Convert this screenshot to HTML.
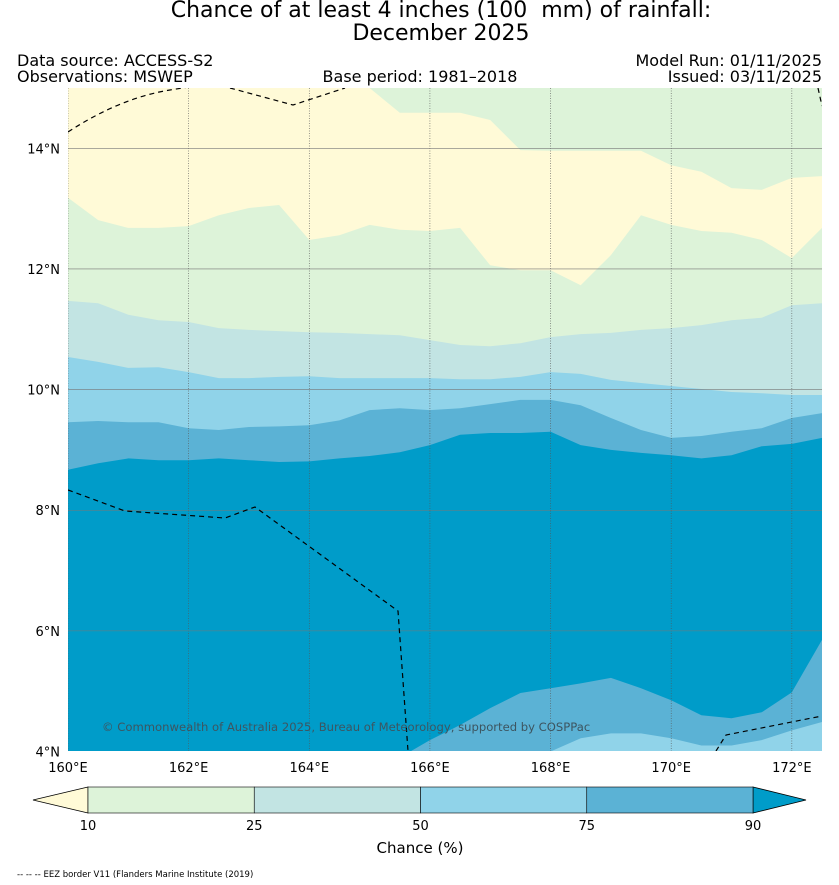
<!DOCTYPE html>
<html><head><meta charset="utf-8">
<style>
body{margin:0;background:#fff;font-family:"DejaVu Sans","Liberation Sans",sans-serif;}
svg{display:block}
</style></head><body>
<svg id="chart" width="839" height="885" viewBox="0 0 839 885" xmlns="http://www.w3.org/2000/svg">
<text x="441" y="17" font-size="22" text-anchor="middle">Chance of at least 4 inches (100&#160; mm) of rainfall:</text>
<text x="441" y="40" font-size="22" text-anchor="middle">December 2025</text>
<text x="17" y="66" font-size="16">Data source: ACCESS-S2</text>
<text x="17" y="82" font-size="16">Observations: MSWEP</text>
<text x="420" y="82" font-size="16" text-anchor="middle">Base period: 1981–2018</text>
<text x="822" y="66" font-size="16" text-anchor="end">Model Run: 01/11/2025</text>
<text x="822" y="82" font-size="16" text-anchor="end">Issued: 03/11/2025</text>
<defs><clipPath id="mapclip"><rect x="68" y="88" width="754" height="663"/></clipPath></defs>
<g id="map" clip-path="url(#mapclip)"></g>
<g id="axes"></g>
<g id="cbar"></g>
<text x="420" y="853" font-size="15" text-anchor="middle">Chance (%)</text>
<text x="17" y="877" font-size="8.5">-- -- -- EEZ border V11 (Flanders Marine Institute (2019)</text>
</svg>
<script>
const lons=[160,160.5,161,161.5,162,162.5,163,163.5,164,164.5,165,165.5,166,166.5,167,167.5,168,168.5,169,169.5,170,170.5,171,171.5,172,172.5];
const creamTop=[15,15,15,15,15,15,15,15,15,15,15,14.59,14.59,14.59,14.47,13.97,13.96,13.96,13.96,13.96,13.72,13.61,13.34,13.31,13.51,13.54];
const creamBottom=[13.18,12.81,12.68,12.68,12.71,12.89,13.01,13.06,12.48,12.56,12.73,12.65,12.63,12.68,12.06,11.98,11.98,11.73,12.23,12.89,12.73,12.63,12.60,12.48,12.18,12.68];
const edge25=[11.47,11.43,11.24,11.15,11.12,11.02,10.99,10.97,10.95,10.94,10.92,10.90,10.82,10.74,10.72,10.77,10.87,10.92,10.94,10.99,11.02,11.07,11.15,11.19,11.40,11.43];
const edge50=[10.54,10.46,10.36,10.37,10.29,10.19,10.19,10.21,10.22,10.19,10.19,10.19,10.19,10.17,10.17,10.21,10.29,10.26,10.16,10.11,10.06,10.01,9.96,9.94,9.91,9.91];
const edge75=[9.46,9.48,9.46,9.46,9.36,9.33,9.38,9.39,9.41,9.49,9.66,9.69,9.66,9.69,9.76,9.83,9.83,9.74,9.53,9.33,9.20,9.23,9.30,9.36,9.53,9.61];
const edge90=[8.67,8.78,8.86,8.83,8.83,8.86,8.83,8.80,8.81,8.86,8.90,8.96,9.08,9.25,9.28,9.28,9.30,9.08,9.00,8.95,8.91,8.86,8.91,9.06,9.10,9.20];
const bottom90=[3.9,3.9,3.9,3.9,3.9,3.9,3.9,3.9,3.9,3.9,3.9,3.9,4.19,4.44,4.72,4.97,5.05,5.13,5.22,5.05,4.85,4.60,4.55,4.65,4.98,5.85];
const bottom75=[3.9,3.9,3.9,3.9,3.9,3.9,3.9,3.9,3.9,3.9,3.9,3.9,3.9,3.9,3.9,3.9,4.0,4.22,4.30,4.30,4.22,4.10,4.10,4.19,4.35,4.49];
const latTicks=[14,12,10,8,6,4];
const lonTicks=[160,162,164,166,168,170,172];
const cbarLevels=[10,25,50,75,90];
const cbarColors=["#ddf3d9","#c2e4e3","#90d3e9","#5bb2d5"];
const C={cream:"#fffad7",g:"#ddf3d9",t:"#c2e4e3",lb:"#90d3e9",mb:"#5bb2d5",d:"#009cc9"};
const NS="http://www.w3.org/2000/svg";
const X=lon=>68+(lon-160)*60.32;
const Y=lat=>88+(15-lat)*60.32;
const map=document.getElementById('map');
function mk(tag,attrs,parent){const e=document.createElementNS(NS,tag);for(const k in attrs)e.setAttribute(k,attrs[k]);parent.appendChild(e);return e;}
function line(arr){return lons.map((l,i)=>X(l).toFixed(1)+','+Y(arr[i]).toFixed(1));}
function below(arr,color,name){
  const pts=line(arr);pts.push(X(172.6)+','+Y(3.5));pts.push(X(159.9)+','+Y(3.5));
  const p=mk('polygon',{points:pts.join(' '),fill:color},map);
  
  
}
const bg=mk('rect',{x:68,y:88,width:754,height:663,fill:C.g},map);


{const top=line(creamTop),bot=line(creamBottom).reverse();
 const p=mk('polygon',{points:top.concat(bot).join(' '),fill:C.cream},map);
 
 }
below(edge25,C.t,'band-25-50');
below(edge50,C.lb,'band-50-75');
below(edge75,C.mb,'band-75-90');
below(edge90,C.d,'band-above-90');
below(bottom90,C.mb,'band-75-90-south');
below(bottom75,C.lb,'band-50-75-south');
lonTicks.forEach(l=>{const g=mk('line',{x1:X(l),x2:X(l),y1:88,y2:751,stroke:'#555','stroke-width':0.6,'stroke-dasharray':'1,1.5'},map);
 
 });
latTicks.forEach(l=>{const g=mk('line',{x1:68,x2:822,y1:Y(l),y2:Y(l),stroke:'#777','stroke-width':0.6},map);
 
 });
["M68,132 Q120,98 170,90 L195,86 M230,88 L293,105 L345,88","M818,88 L822,106","M68,490 L125,511 L225,518 L255,507 L398,611 L408,751","M716,751 L726,735 L822,716"].forEach(d=>{
 const e=mk('path',{d:d,fill:'none',stroke:'#000','stroke-width':1.2,'stroke-dasharray':'5,4'},map);
 
 });
const cp=mk('text',{x:102,y:731,'font-size':11.6,fill:'#3d5560'},map);
cp.textContent='© Commonwealth of Australia 2025, Bureau of Meteorology, supported by COSPPac';


const axes=document.getElementById('axes');
latTicks.forEach(l=>{const t=mk('text',{x:60,y:Y(l)+5,'font-size':13,'text-anchor':'end'},axes);t.textContent=l+'°N';
 
 });
lonTicks.forEach(l=>{const t=mk('text',{x:X(l),y:772,'font-size':13,'text-anchor':'middle'},axes);t.textContent=l+'°E';
 
 });
const cb=document.getElementById('cbar');
const cx=i=>88+i*166.25;
const lt=mk('polygon',{points:'33,800 88,787 88,813',fill:C.cream,stroke:'#000','stroke-width':0.8},cb);


const rt=mk('polygon',{points:'806,800 753,787 753,813',fill:C.d,stroke:'#000','stroke-width':0.8},cb);


cbarColors.forEach((c,i)=>{const r=mk('rect',{x:cx(i),y:787,width:166.25,height:26,fill:c,stroke:'#000','stroke-width':0.6},cb);
 
 });
cbarLevels.forEach((v,i)=>{const t=mk('text',{x:cx(i),y:830,'font-size':13,'text-anchor':'middle'},cb);t.textContent=v;
 
 });
</script>
</body></html>
